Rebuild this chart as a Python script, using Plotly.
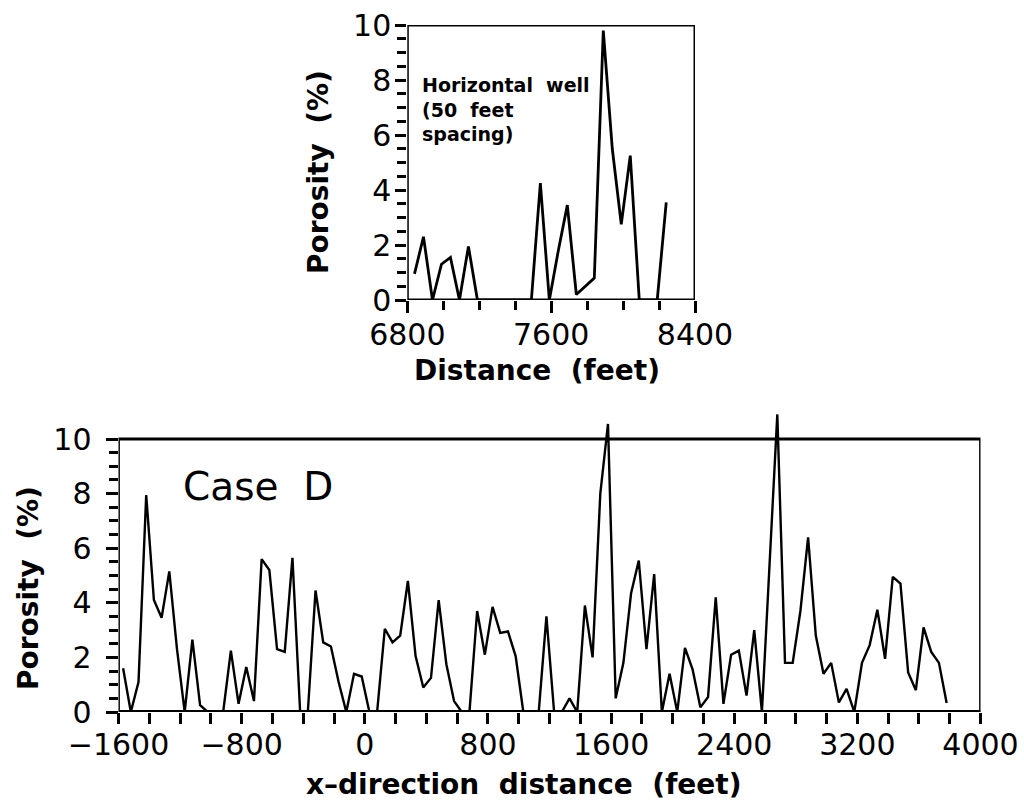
import plotly.graph_objects as go

# ---- Horizontal well: porosity sampled every 50 feet ----
well_start = 6840
well_step = 50
well_porosity = [
    0.95, 2.3, 0.0, 1.3, 1.55, 0.0, 1.95, 0.0, 0.0, 0.0,
    0.0, 0.0, 0.0, 0.0, 4.25, 0.0, 1.8, 3.45, 0.2, 0.5,
    0.8, 9.8, 5.5, 2.75, 5.25, 0.0, 0.0, 0.0, 3.55,
]
well_distance = [well_start + well_step * i for i in range(len(well_porosity))]

# ---- Case D: porosity along the x-direction, 50-foot grid ----
case_start = -1570
case_step = 50
case_porosity = [
    1.6, 0.0, 1.1, 7.95, 4.1, 3.45, 5.15, 2.3, 0.0, 2.65,
    0.25, 0.0, 0.0, 0.0, 2.25, 0.3, 1.65, 0.4, 5.6, 5.2,
    2.3, 2.2, 5.65, 0.0, 0.0, 4.45, 2.55, 2.4, 1.1, 0.0,
    1.4, 1.3, 0.0, 0.0, 3.05, 2.55, 2.8, 4.8, 2.05, 0.9,
    1.25, 4.1, 1.75, 0.4, 0.0, 0.0, 3.7, 2.1, 3.85, 2.9,
    2.95, 2.05, 0.0, 0.0, 0.0, 3.5, 0.0, 0.0, 0.5, 0.0,
    3.9, 2.0, 8.0, 10.55, 0.5, 1.8, 4.35, 5.55, 2.3, 5.05,
    0.0, 1.4, 0.0, 2.35, 1.55, 0.17, 0.55, 4.2, 0.3, 2.1,
    2.25, 0.6, 3.0, 0.0, 5.3, 10.9, 1.8, 1.8, 3.7, 6.4,
    2.8, 1.4, 1.8, 0.35, 0.85, 0.0, 1.8, 2.45, 3.75, 1.95,
    4.95, 4.7, 1.45, 0.8, 3.1, 2.2, 1.8, 0.33,
]
case_distance = [case_start + case_step * i for i in range(len(case_porosity))]

# ---- Tick positions ----
well_x_major = [6800, 7600, 8400]
well_x_minor = [7000, 7200, 7400, 7800, 8000, 8200]
case_x_major = [-1600, -800, 0, 800, 1600, 2400, 3200, 4000]
case_x_minor = [v for v in range(-1400, 4000, 200) if v % 800 != 0]
y_major = [0, 2, 4, 6, 8, 10]
y_minor = [v / 2 for v in range(1, 20) if v % 4 != 0]

W, H = 1024, 802


def fx(px):
    return px / W


def fy(py):
    return 1 - py / H


TICK_FONT = dict(family="DejaVu Sans", size=30, color="black")
TITLE_FONT = dict(family="DejaVu Sans", size=28, color="black", weight="bold")

fig = go.Figure()
fig.add_trace(go.Scatter(x=well_distance, y=well_porosity, mode="lines",
                         line=dict(color="black", width=2.8),
                         xaxis="x", yaxis="y", hoverinfo="skip"))
fig.add_trace(go.Scatter(x=case_distance, y=case_porosity, mode="lines",
                         line=dict(color="black", width=2.4),
                         xaxis="x2", yaxis="y2", hoverinfo="skip"))


def axis_style(tickvals, minor_vals, ticklen=12, minor_len=9):
    return dict(
        tickmode="array", tickvals=tickvals, ticks="outside",
        ticklen=ticklen, tickwidth=2.5, tickcolor="black",
        minor=dict(tickmode="array", tickvals=minor_vals, ticks="outside",
                   ticklen=minor_len, tickwidth=2.5, tickcolor="black"),
        showgrid=False, zeroline=False, showline=False, automargin=False,
        tickfont=TICK_FONT, fixedrange=True,
    )


fig.update_layout(
    width=W, height=H,
    margin=dict(l=0, r=0, t=0, b=0, autoexpand=False),
    paper_bgcolor="white", plot_bgcolor="white",
    showlegend=False,
    xaxis=dict(domain=[fx(407.3), fx(695)], range=[6800, 8400], anchor="y",
               ticklabelstandoff=-4, **axis_style(well_x_major, well_x_minor)),
    yaxis=dict(domain=[fy(300), fy(25)], range=[0, 10], anchor="x",
               ticklabelstandoff=-2, **axis_style(y_major, y_minor, 11, 9)),
    xaxis2=dict(domain=[fx(118.5), fx(980.5)], range=[-1600, 4000], anchor="y2",
                ticklabelstandoff=-5, **axis_style(case_x_major, case_x_minor, 11, 11)),
    yaxis2=dict(domain=[fy(712), fy(712 - 11 * 27.3)], range=[0, 11], anchor="x2",
                ticklabelstandoff=8, **axis_style(y_major, y_minor, 12, 9)),
)

# Frames around both panels (top edge at porosity 10)
fig.add_shape(type="rect", xref="x", yref="y", x0=6800, x1=8400, y0=0, y1=10,
              line=dict(color="black", width=3))
fig.add_shape(type="rect", xref="x2", yref="y2", x0=-1600, x1=4000, y0=0, y1=10,
              line=dict(color="black", width=2.8))
fig.add_shape(type="line", xref="x2", yref="y2", x0=-1600, x1=4000, y0=0, y1=0,
              line=dict(color="black", width=4))

NB = "\u00a0\u00a0"
fig.add_annotation(text="Porosity" + NB + "(%)", textangle=-90, showarrow=False,
                   xref="paper", yref="paper", x=fx(319), y=fy(172),
                   xanchor="center", yanchor="middle", font=TITLE_FONT)
fig.add_annotation(text="Distance" + NB + "(feet)", showarrow=False,
                   xref="paper", yref="paper", x=fx(537), y=fy(370),
                   xanchor="center", yanchor="middle", font=TITLE_FONT)
fig.add_annotation(text="Porosity" + NB + "(%)", textangle=-90, showarrow=False,
                   xref="paper", yref="paper", x=fx(28), y=fy(588),
                   xanchor="center", yanchor="middle", font=TITLE_FONT)
fig.add_annotation(text="x\u2013direction" + NB + "distance" + NB + "(feet)", showarrow=False,
                   xref="paper", yref="paper", x=fx(524), y=fy(784),
                   xanchor="center", yanchor="middle", font=TITLE_FONT)
fig.add_annotation(text="Case" + NB + "D", showarrow=False,
                   xref="paper", yref="paper", x=fx(181), y=fy(486),
                   xanchor="left", yanchor="middle",
                   font=dict(family="DejaVu Sans", size=39, color="black"))
fig.add_annotation(text="Horizontal" + NB + "well<br>(50" + NB + "feet<br>spacing)",
                   showarrow=False, align="left",
                   xref="paper", yref="paper", x=fx(420), y=fy(72),
                   xanchor="left", yanchor="top",
                   font=dict(family="DejaVu Sans", size=19, color="black", weight="bold"))

fig.write_html("out.html")
